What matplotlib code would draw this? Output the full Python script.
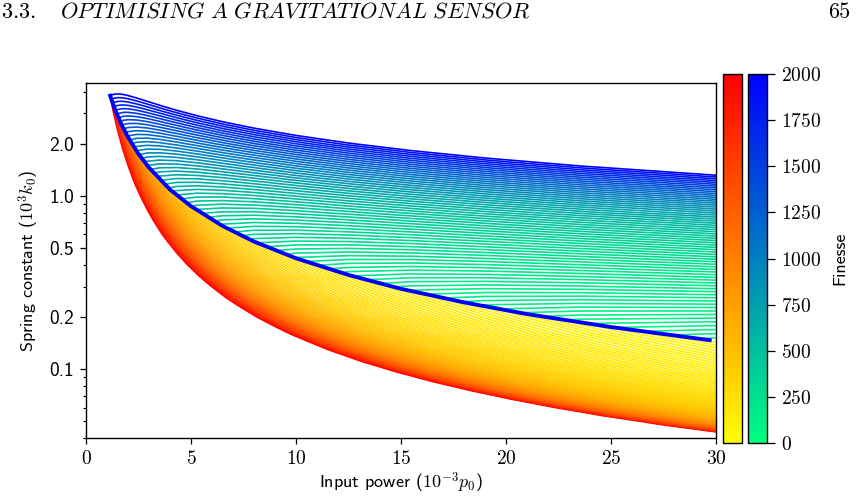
import numpy as np
import matplotlib
matplotlib.use("Agg")
import matplotlib.pyplot as plt
from matplotlib.ticker import FixedLocator, FormatStrFormatter, LogLocator, NullFormatter
from matplotlib.patches import Polygon
from matplotlib.colors import Normalize
from matplotlib.cm import ScalarMappable

plt.rcParams["mathtext.fontset"] = "cm"
plt.rcParams["axes.formatter.use_mathtext"] = True

INF = np.inf  # lower branch has no solution there

# grid: input power (1e-3 p0) x spring constant (1e3 k0)
power_upper_nodes = [1.0, 1.15, 1.3, 1.5, 1.75, 2.0, 2.4, 2.9, 3.5, 4.3, 5.3, 6.5, 8.0,
                     10.0, 12.5, 15.5, 19.0, 23.5, 30.0]
k_upper_nodes = [0.12, 0.3, 0.8, 2.0, 4.6]
power_lower_nodes = [1.0, 1.15, 1.3, 1.5, 1.75, 2.0, 2.4, 2.6, 2.9, 3.2, 3.5, 3.9, 4.3,
                     4.8, 5.3, 5.9, 6.5, 7.2, 8.0, 9.0, 10.0, 11.2, 12.5, 14.0, 15.5,
                     17.2, 19.0, 21.0, 23.5, 26.5, 30.0]
k_lower_nodes = [0.035, 0.039, 0.043, 0.048, 0.054, 0.06, 0.067, 0.075, 0.085, 0.097,
                 0.11, 0.13, 0.16, 0.2, 0.26, 0.35, 0.6, 1.2, 4.0]

# finesse on the upper branch (rows = k_upper_nodes, cols = power_upper_nodes)
finesse_upper = [
    [864, 755, 671, 586, 506, 447, 377, 317, 268, 224, 188, 159, 135, 115, 99, 87, 78, 71, 66],
    [908, 800, 716, 631, 552, 493, 424, 365, 317, 274, 239, 212, 191, 175, 163, 156, 154, 156, 163],
    [1039, 932, 850, 768, 691, 635, 571, 518, 478, 445, 423, 413, 412, 424, 450, 490, 545, 626, 756],
    [1397, 1302, 1231, 1164, 1107, 1071, 1039, 1027, 1038, 1076, 1147, 1253, 1406, 1637, 1955, 2374, 2905, 3648, 4826],
    [2402, 2370, 2363, 2384, 2440, 2519, 2680, 2920, 3247, 3734, 4402, 5277, 6466, 8194, 10559, 13666, 17629, 23208, 32134],
]

# finesse on the lower branch (rows = k_lower_nodes, cols = power_lower_nodes)
finesse_lower = [
    [INF] * 31,
    [INF] * 31,
    [INF] * 30 + [2221],
    [INF] * 29 + [3006, 940],
    [INF] * 28 + [3504, 1103, 556],
    [INF] * 27 + [4362, 1357, 675, 394],
    [INF] * 26 + [4148, 1538, 791, 465, 295],
    [INF] * 25 + [3875, 1576, 884, 536, 343, 229],
    [INF] * 23 + [51916, 3440, 1512, 888, 577, 382, 258, 179],
    [INF] * 22 + [18005, 2942, 1463, 873, 582, 408, 284, 199, 141],
    [INF] * 21 + [12577, 3009, 1455, 901, 599, 424, 309, 222, 160, 115],
    [INF] * 20 + [6109, 2373, 1319, 819, 567, 404, 299, 225, 167, 122, 90],
    [INF] * 18 + [9162, 3134, 1747, 1070, 716, 494, 364, 271, 208, 160, 121, 90, 68],
    [INF] * 16 + [9399, 3918, 2183, 1315, 895, 618, 445, 323, 247, 189, 147, 116, 89, 67, 51],
    [INF] * 13 + [22451, 6988, 3512, 2213, 1472, 1019, 703, 517, 378, 284, 213, 166, 130, 103,
                  82, 63, 48, 37],
    [INF] * 10 + [46482, 10163, 5249, 3057, 2051, 1405, 1031, 760, 566, 414, 316, 239, 184,
                  141, 112, 88, 71, 57, 44, 34, 26],
    [INF] * 6 + [11754, 7424, 4517, 3098, 2278, 1622, 1219, 899, 692, 527, 415, 325, 253, 193,
                 152, 118, 93, 73, 58, 47, 38, 31, 24, 19, 15],
    [INF, 31885, 14849, 7888, 4557, 3007, 1798, 1455, 1100, 862, 694, 538, 429, 334, 267, 211,
     171, 137, 109, 85, 68, 53, 42, 34, 27, 22, 18, 15, 12, 9, 7],
    [2602, 1866, 1404, 1015, 720, 538, 363, 306, 243, 197, 164, 130, 107, 85, 69, 55, 45, 37,
     30, 23, 19, 15, 12, 10, 8, 6, 5, 4, 3, 3, 2],
]

# thick line where the two branches meet
thick_power = [1.15, 1.4, 1.7, 2.0, 2.5, 3.0, 4.0, 5.0, 6.5, 8.0, 10.0, 12.5, 15.0,
               18.0, 21.0, 25.0, 29.7]
thick_k = [3.80, 3.12, 2.57, 2.19, 1.75, 1.46, 1.09, 0.874, 0.672, 0.546, 0.437,
           0.350, 0.291, 0.243, 0.208, 0.175, 0.147]

finesse_levels = np.geomspace(40, 2000, 81)
cbar_ticks = [0, 250, 500, 750, 1000, 1250, 1500, 1750, 2000]

W, H = 867, 498
fig = plt.figure(figsize=(W / 100, H / 100), dpi=100)
ax = fig.add_axes([86 / W, 1 - 438 / H, 630 / W, 355 / H])

norm = Normalize(0, 2000)

# clip each branch to its side of the thick line
tp = np.array(thick_power)
tk = np.array(thick_k)
edge = np.column_stack([tp, tk])
up_clip = Polygon(np.vstack([edge, [[40, tk[-1]], [40, 100], [0, 100], [0, tk[0]]]]),
                  closed=True, transform=ax.transData)
lo_clip = Polygon(np.vstack([edge, [[40, tk[-1]], [40, 1e-4], [0, 1e-4], [0, tk[0]]]]),
                  closed=True, transform=ax.transData)

# contour in transformed finesse so the linear interpolation follows the curves
up_field = np.array(finesse_upper, float) ** 0.4
cs_up = ax.contour(power_upper_nodes, k_upper_nodes, up_field, levels=finesse_levels ** 0.4,
                   colors=plt.get_cmap("winter_r")(norm(finesse_levels)), linewidths=1.2)
cs_up.set_clip_path(up_clip)

lo_field = 1.0 / np.array(finesse_lower, float)
lo_levels = finesse_levels[::-1]
cs_lo = ax.contour(power_lower_nodes, k_lower_nodes, lo_field, levels=1.0 / lo_levels,
                   colors=plt.get_cmap("autumn_r")(norm(lo_levels)), linewidths=1.2)
cs_lo.set_clip_path(lo_clip)

ax.plot(thick_power, thick_k, color="#0000ff", lw=2.8, zorder=5)

ax.set_yscale("log")
ax.set_xlim(0, 30)
ax.set_ylim(0.040, 4.50)
ax.yaxis.set_major_locator(FixedLocator([0.1, 0.2, 0.5, 1.0, 2.0]))
ax.yaxis.set_major_formatter(FormatStrFormatter("%.1f"))
ax.yaxis.set_minor_locator(LogLocator(subs=range(2, 10)))
ax.yaxis.set_minor_formatter(NullFormatter())
ax.set_xticks([0, 5, 10, 15, 20, 25, 30])
ax.tick_params(which="major", length=4.5, width=0.9, pad=4)
ax.tick_params(which="minor", length=2.3, width=0.8)
for lab in ax.get_xticklabels():
    lab.set_fontfamily("cmr10")
    lab.set_fontsize(14)
for lab in ax.get_yticklabels():
    lab.set_fontfamily("cmss10")
    lab.set_fontsize(14)
for s in ax.spines.values():
    s.set_linewidth(1.0)

ax.set_xlabel("Input power ($10^{-3}p_0$)", fontfamily="cmss10", fontsize=13, labelpad=2)
ax.set_ylabel("Spring constant ($10^3k_0$)", fontfamily="cmss10", fontsize=13, labelpad=6)

cax1 = fig.add_axes([723 / W, 1 - 443 / H, 19 / W, 369 / H])
cax2 = fig.add_axes([748 / W, 1 - 443 / H, 19 / W, 369 / H])
cb1 = fig.colorbar(ScalarMappable(norm, "autumn_r"), cax=cax1, ticks=[])
cb2 = fig.colorbar(ScalarMappable(norm, "winter_r"), cax=cax2, ticks=cbar_ticks)
cb2.ax.tick_params(length=6, width=0.9, pad=4)
for lab in cb2.ax.get_yticklabels():
    lab.set_fontfamily("cmr10")
    lab.set_fontsize(14)
cb2.set_label("Finesse", fontfamily="cmss10", fontsize=13, labelpad=8)
for cb in (cb1, cb2):
    cb.outline.set_linewidth(1.0)

fig.text(1 / W, 1 - 18 / H, r"$\mathit{3.3.}$", fontsize=16)
fig.text(60 / W, 1 - 18 / H, r"$\mathit{OPTIMISING\ A\ GRAVITATIONAL\ SENSOR}$", fontsize=16)
fig.text(850 / W, 1 - 18 / H, "65", fontsize=16, fontfamily="cmr10", ha="right")

fig.savefig("out.png", dpi=100)
